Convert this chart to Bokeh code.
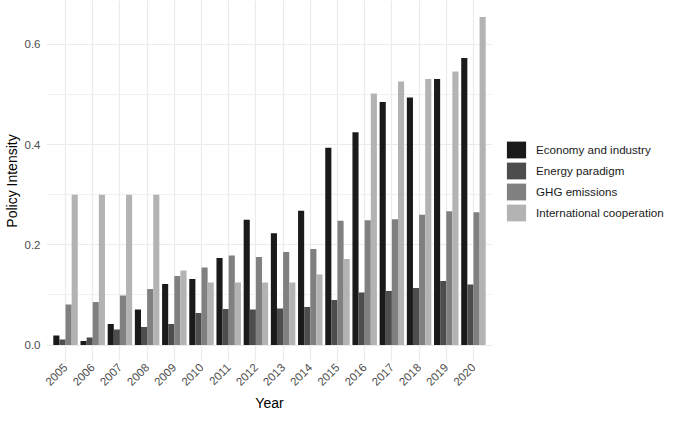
import math
from bokeh.plotting import figure
from bokeh.models import (ColumnDataSource, FactorRange, Range1d, FixedTicker,
                          NumeralTickFormatter, Legend, LegendItem)
from bokeh.transform import dodge
from bokeh.embed import file_html
from bokeh.resources import INLINE

years = [str(y) for y in range(2005, 2021)]
econ = [0.019, 0.008, 0.042, 0.071, 0.122, 0.132, 0.174, 0.250, 0.223, 0.268,
        0.394, 0.425, 0.485, 0.494, 0.531, 0.573]
energy = [0.011, 0.015, 0.031, 0.036, 0.042, 0.064, 0.072, 0.071, 0.073, 0.076,
          0.090, 0.105, 0.108, 0.114, 0.128, 0.121]
ghg = [0.081, 0.086, 0.099, 0.112, 0.138, 0.155, 0.179, 0.176, 0.186, 0.192,
       0.248, 0.249, 0.251, 0.260, 0.267, 0.265]
intl = [0.300, 0.300, 0.300, 0.300, 0.149, 0.125, 0.125, 0.125, 0.125, 0.141,
        0.172, 0.502, 0.526, 0.531, 0.546, 0.655]
series_names = ["Economy and industry", "Energy paradigm", "GHG emissions",
                "International cooperation"]
series_keys = ["econ", "energy", "ghg", "intl"]
colors = ["#1a1a1a", "#4d4d4d", "#808080", "#b3b3b3"]
y_ticks = [0.0, 0.2, 0.4, 0.6]
y_minor = [0.1, 0.3, 0.5]

src = ColumnDataSource(dict(year=years, econ=econ, energy=energy, ghg=ghg, intl=intl))

ymax = max(max(econ), max(energy), max(ghg), max(intl))
pad = ymax * 0.05

FONT = "Liberation Sans"

p = figure(frame_width=446, frame_height=361, output_backend="svg", toolbar_location=None,
           x_range=FactorRange(*years, range_padding=0.2, range_padding_units="absolute"),
           y_range=Range1d(-pad, ymax + pad),
           min_border_left=0, min_border_top=0, min_border_right=0, min_border_bottom=0)
p.outline_line_color = None
p.background_fill_color = "white"
p.border_fill_color = "white"

n = len(series_keys)
bw = 0.9 / n
items = []
for i, (k, name, c) in enumerate(zip(series_keys, series_names, colors)):
    off = -0.45 + bw * (i + 0.5)
    r = p.vbar(x=dodge("year", off, range=p.x_range), top=k, bottom=0, width=bw,
               source=src, fill_color=c, line_color=None)
    items.append(LegendItem(label=name, renderers=[r]))

legend = Legend(items=items, location="center_left", glyph_width=24, glyph_height=21,
                spacing=0, label_standoff=8, padding=0, margin=12,
                border_line_color=None, background_fill_alpha=0,
                label_text_font=FONT, label_text_font_size="11.6px",
                label_text_color="#1a1a1a")
p.add_layout(legend, "right")

# axes
p.yaxis.ticker = FixedTicker(ticks=y_ticks, minor_ticks=y_minor)
p.yaxis.formatter = NumeralTickFormatter(format="0.0")
for ax in (p.xaxis[0], p.yaxis[0]):
    ax.axis_line_color = None
    ax.major_tick_line_color = None
    ax.minor_tick_line_color = None
    ax.major_tick_out = 0
    ax.minor_tick_out = 0
    ax.major_tick_in = 0
    ax.minor_tick_in = 0
    ax.major_label_text_font = FONT
    ax.major_label_text_font_size = "11.5px"
    ax.major_label_text_color = "#4d4d4d"
    ax.axis_label_text_font = FONT
    ax.axis_label_text_font_size = "14px"
    ax.axis_label_text_font_style = "normal"
    ax.axis_label_text_color = "black"
p.xaxis.axis_label = "Year"
p.yaxis.axis_label = "Policy Intensity"
p.xaxis.major_label_orientation = math.pi / 4
p.xaxis.major_label_standoff = 4
p.xaxis.axis_label_standoff = 3
p.yaxis.major_label_standoff = 6
p.yaxis.axis_label_standoff = 2

# grid
p.xgrid.grid_line_color = "#ebebeb"
p.xgrid.grid_line_width = 1.2
p.ygrid.grid_line_color = "#ebebeb"
p.ygrid.grid_line_width = 1.2
p.ygrid.minor_grid_line_color = "#f0f0f0"
p.ygrid.minor_grid_line_width = 1.0

open("out.html", "w").write(file_html(p, INLINE))
